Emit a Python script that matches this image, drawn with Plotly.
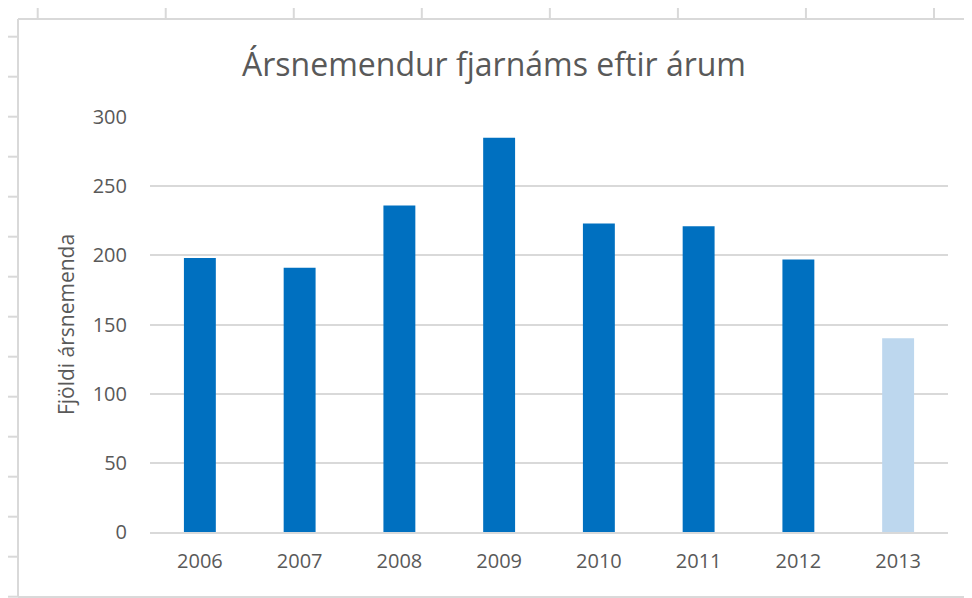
import plotly.graph_objects as go

years = ["2006", "2007", "2008", "2009", "2010", "2011", "2012", "2013"]
students = [198, 191, 236, 285, 223, 221, 197, 140]
bar_colors = ["#0070C0"] * 7 + ["#BDD7EE"]
y_ticks = [0, 50, 100, 150, 200, 250, 300]

OFF = 8  # page body margin
W, H = 972 - OFF, 598 - OFF
L, R, T, B = 150 - OFF, 24 - OFF + OFF, 117 - OFF, 66 - OFF + OFF
PW, PH = W - L - R, H - T - B

def px(x):
    # page pixel -> paper x
    return (x - OFF - L) / PW

def py(y):
    # page pixel -> paper y
    return (H - B - (y - OFF)) / PH

fig = go.Figure(go.Bar(
    x=years, y=students, marker_color=bar_colors, marker_line_width=0,
    hoverinfo="x+y"))

grid = "#d9d9d9"
shapes = []
for (x0, y0, x1, y1) in [(18, 19, 985, 19), (18, 19, 18, 597), (18, 597, 985, 597)]:
    shapes.append(dict(type="line", xref="paper", yref="paper",
                       x0=px(x0), y0=py(y0), x1=px(x1), y1=py(y1),
                       line=dict(color=grid, width=2), layer="below"))
for k in range(8):
    x = 37.7 + 128.04 * k
    shapes.append(dict(type="line", xref="paper", yref="paper",
                       x0=px(x), y0=py(7), x1=px(x), y1=py(19),
                       line=dict(color=grid, width=2), layer="below"))
for k in range(15):
    y = 36.7 + 40 * k
    shapes.append(dict(type="line", xref="paper", yref="paper",
                       x0=px(7), y0=py(y), x1=px(18), y1=py(y),
                       line=dict(color=grid, width=2), layer="below"))

fig.update_layout(
    width=W, height=H,
    margin=dict(l=L, r=R, t=T, b=B),
    paper_bgcolor="white", plot_bgcolor="white",
    font=dict(family="Open Sans", color="#595959", size=20),
    title=dict(text="Ársnemendur fjarnáms eftir árum", x=(494 - OFF) / W, xanchor="center",
               y=1 - (65 - OFF) / H, yanchor="middle",
               font=dict(family="Open Sans", size=32, color="#595959")),
    bargap=0.68,
    showlegend=False,
    shapes=shapes,
    xaxis=dict(showgrid=False, showline=True, linecolor=grid, linewidth=2,
               ticks="", tickfont=dict(size=20, color="#595959"), ticklabelstandoff=10),
    yaxis=dict(range=[0, 300], tickvals=y_ticks, showgrid=True, gridcolor=grid,
               gridwidth=2, zeroline=False, showline=False, ticks="",
               ticklabelstandoff=22, tickfont=dict(size=20, color="#595959"),
               title=dict(text="Fjöldi ársnemenda", standoff=12,
                          font=dict(size=21, color="#595959"))),
)

fig.write_html("out.html")
